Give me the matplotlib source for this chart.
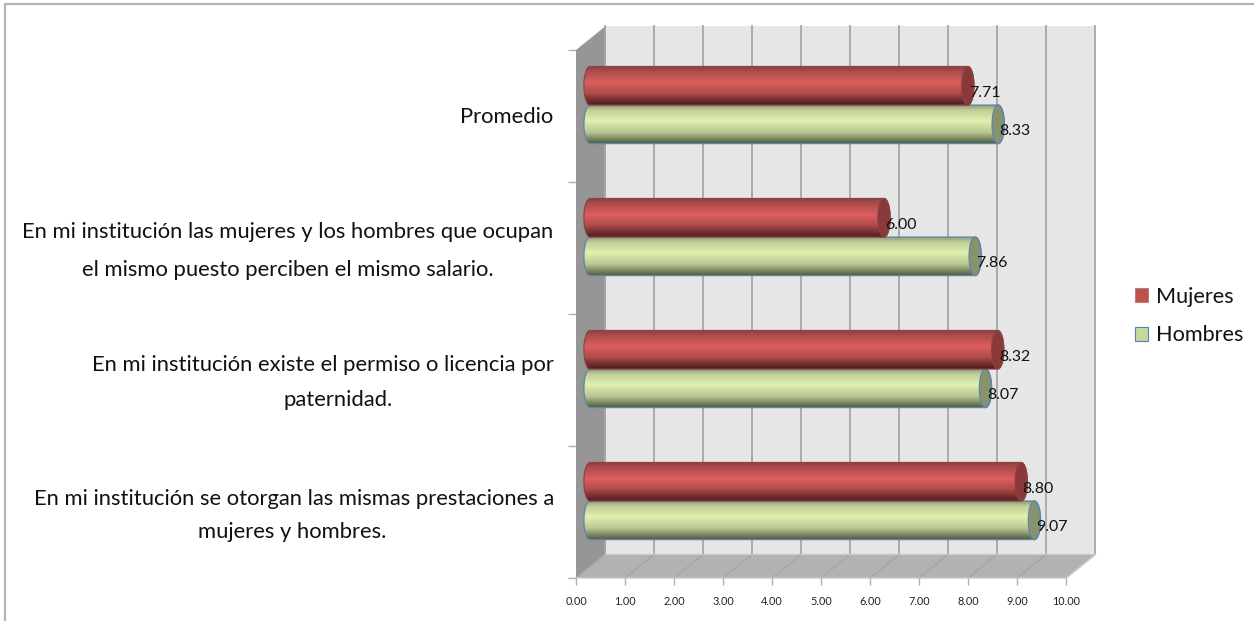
import numpy as np
import matplotlib
matplotlib.use("Agg")
import matplotlib.pyplot as plt
from matplotlib.colors import LinearSegmentedColormap
from matplotlib.patches import Polygon, Ellipse, PathPatch, Patch
from matplotlib.path import Path
from matplotlib.lines import Line2D

# ---- data (bottom category first) ----
series_names = ["Mujeres", "Hombres"]
mujeres = [8.80, 8.32, 6.00, 7.71]
hombres = [9.07, 8.07, 7.86, 8.33]
x_ticks = [0, 1, 2, 3, 4, 5, 6, 7, 8, 9, 10]

# category label lines: (text, centre x px, centre y px)
cat_lines = [
    ("Promedio", 507, 117),
    ("En mi institución las mujeres y los hombres que ocupan", 288, 232),
    ("el mismo puesto perciben el mismo salario.", 288, 270),
    ("En mi institución existe el permiso o licencia por", 323, 365),
    ("paternidad.", 338, 400),
    ("En mi institución se otorgan las mismas prestaciones a", 294, 499),
    ("mujeres y hombres.", 292, 532),
]

W, H = 1254, 621
plt.rcParams["font.family"] = ["Lato", "DejaVu Sans"]
fig = plt.figure(figsize=(W / 100, H / 100), dpi=100)
fx = lambda p: p / W
fy = lambda p: 1 - p / H

# plot axes = front plane of the 3-D box
L, R, T, B = 576, 1066, 50, 578
ax = fig.add_axes([fx(L), fy(B), (R - L) / W, (B - T) / H])
ax.patch.set_visible(False)
for s in ax.spines.values():
    s.set_visible(False)

DX, DY = 0.60, 0.18          # depth of the box in data units
XMAX, YMAX = 10, 4
c_wall, c_side, c_floor, c_grid = "#e6e6e6", "#969696", "#b2b2b2", "#a6a6a6"

ax.add_patch(Polygon([(DX, DY), (XMAX + DX, DY), (XMAX + DX, YMAX + DY), (DX, YMAX + DY)],
                     fc=c_wall, ec="none", zorder=1, clip_on=False))
ax.add_patch(Polygon([(0, 0), (DX, DY), (DX, YMAX + DY), (0, YMAX)],
                     fc=c_side, ec="none", zorder=1, clip_on=False))
ax.add_patch(Polygon([(0, 0), (XMAX, 0), (XMAX + DX, DY), (DX, DY)],
                     fc=c_floor, ec="none", zorder=1, clip_on=False))
for v in x_ticks:
    ax.plot([v + DX, v + DX], [DY, YMAX + DY], color=c_grid, lw=1.3, zorder=2, clip_on=False)
    ax.plot([v, v + DX], [0, DY], color=c_grid, lw=1.0, zorder=2, clip_on=False)
ax.plot([0, XMAX, XMAX + DX], [0, 0, DY], color="#c8c8c8", lw=1.0, zorder=2, clip_on=False)
ax.plot([DX, XMAX + DX], [DY, DY], color="#c8c8c8", lw=1.0, zorder=2, clip_on=False)

cmap_m = LinearSegmentedColormap.from_list("m", [(0, "#8c3f3f"), (0.12, "#a84a4a"), (0.42, "#de5e5e"),
                                                  (0.7, "#b04a4a"), (0.92, "#652828"), (1, "#4e1f1f")])
cmap_h = LinearSegmentedColormap.from_list("h", [(0, "#8f9a72"), (0.12, "#c0cc97"), (0.4, "#e0f1af"),
                                                  (0.7, "#b9c693"), (0.92, "#6a7550"), (1, "#4f5a3c")])
grad = np.linspace(0, 1, 128).reshape(-1, 1)
X0, RX, BH, OFFY = 0.286, 0.125, 0.292, 0.583
cap_m, cap_h = "#8a3838", "#87936c"


def cylinder(v, yc, cmap, cap, edge, z):
    x1 = X0 + v
    t = np.linspace(np.pi / 2, 3 * np.pi / 2, 30)
    left = np.c_[X0 + RX * np.cos(t), yc + BH / 2 * np.sin(t)]
    t2 = np.linspace(-np.pi / 2, np.pi / 2, 30)
    right = np.c_[x1 + RX * np.cos(t2), yc + BH / 2 * np.sin(t2)]
    verts = np.vstack([left, right, left[:1]])
    patch = PathPatch(Path(verts), fc="none", ec=edge, lw=0.9, zorder=z + 2, clip_on=False)
    ax.add_patch(patch)
    im = ax.imshow(grad, cmap=cmap, extent=[X0 - RX, x1 + RX, yc - BH / 2, yc + BH / 2],
                   aspect="auto", zorder=z, interpolation="bilinear", origin="upper")
    im.set_clip_path(patch)
    ax.add_patch(Ellipse((x1, yc), 2 * RX, BH, fc=cap, ec=edge, lw=0.9, zorder=z + 1, clip_on=False))


LBL = dict(fontsize=11.4, color="#111111", va="center", ha="left", zorder=20, clip_on=False)
for i, (m, h) in enumerate(zip(mujeres, hombres)):
    yc = i + OFFY
    cylinder(h, yc - BH / 2, cmap_h, cap_h, "#5b86ad", 5)
    cylinder(m, yc + BH / 2, cmap_m, cap_m, "#8a4444", 8)
    ax.text(X0 + m + 0.03, yc + BH / 2 - 0.052, f"{m:.2f}", **LBL)
    ax.text(X0 + h + 0.03, yc - BH / 2 - 0.052, f"{h:.2f}", **LBL)

ax.set_xlim(0, XMAX)
ax.set_ylim(0, YMAX)
ax.set_xticks(x_ticks)
ax.set_xticklabels([f"{v:.2f}" for v in x_ticks], fontsize=7.8, color="#222222")
ax.set_yticks(range(YMAX + 1))
ax.set_yticklabels([])
ax.tick_params(axis="x", length=5, width=1, color="#b0b0b0", pad=8)
ax.tick_params(axis="y", length=6, width=1, color="#b0b0b0")

for text, cx, cy in cat_lines:
    fig.text(fx(cx), fy(cy), text, fontsize=15.8, color="#111111", ha="center", va="center")

# chart frame
fig.add_artist(Line2D([fx(5), fx(5), 1], [0, fy(4), fy(4)], color="#b4b4b4", lw=1.6))

# legend
handles = [Patch(fc="#c0504d", ec="#b98080", lw=0.8, label=series_names[0]),
           Patch(fc="#c6d99b", ec="#4f81bd", lw=0.8, label=series_names[1])]
fig.legend(handles=handles, loc="center left", bbox_to_anchor=(fx(1115), fy(316)), frameon=False,
           fontsize=15.6, handlelength=0.64, handleheight=0.64, handletextpad=0.35,
           labelspacing=0.86, labelcolor="#111111")

fig.savefig("out.png", dpi=100)
